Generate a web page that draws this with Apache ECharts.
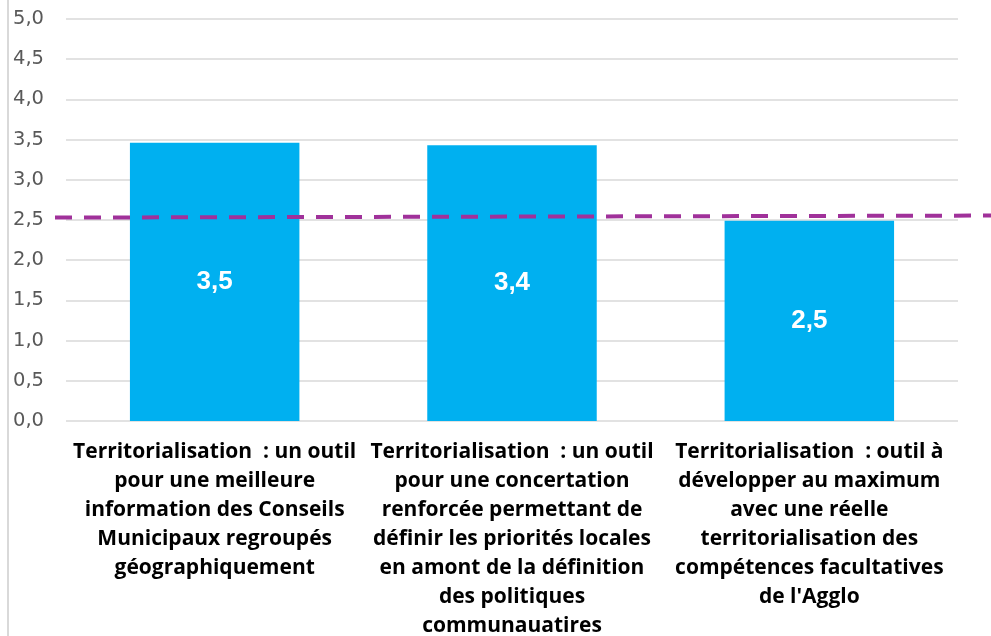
<!DOCTYPE html>
<html>
<head>
<meta charset="utf-8">
<script src="https://cdn.jsdelivr.net/npm/echarts@6/dist/echarts.min.js"></script>
<style>
html,body{margin:0;padding:0;background:#fff;}
#chart{width:991px;height:636px;position:relative;}
#edge{position:absolute;left:7px;top:0;width:2px;height:636px;background:#d9d9d9;}
</style>
</head>
<body>
<div id="chart"></div>
<div id="edge"></div>
<script>
// catégories (retours à la ligne comme dans l'original)
var categories = [
  'Territorialisation  : un outil\npour une meilleure\ninformation des Conseils\nMunicipaux regroupés\ngéographiquement',
  'Territorialisation  : un outil\npour une concertation\nrenforcée permettant de\ndéfinir les priorités locales\nen amont de la définition\ndes politiques\ncommunauatires',
  'Territorialisation  : outil à\ndévelopper au maximum\navec une réelle\nterritorialisation des\ncompétences facultatives\nde l\'Agglo'
];
var values = [3.46, 3.43, 2.49];
// ligne pointillée : début et fin (x de 0 à 1 sur toute la largeur, y en valeur)
var refLine = [[0, 2.53], [1, 2.555]];
var yTicks = [0, 0.5, 1, 1.5, 2, 2.5, 3, 3.5, 4, 4.5, 5];

function fr(v){ return v.toFixed(1).replace('.', ','); }

var myChart = echarts.init(document.getElementById('chart'));
myChart.setOption({
  animation:false,
  grid:[
    {left:66, right:33, top:19, bottom:215, outerBoundsMode:'none', containLabel:false},
    {left:55, right:0, top:19, bottom:215, outerBoundsMode:'none', containLabel:false}
  ],
  xAxis:[{
    type:'category',
    gridIndex:0,
    data:categories,
    axisLine:{show:false},
    axisTick:{show:false},
    axisLabel:{
      interval:0,
      margin:17,
      color:'#000',
      fontFamily:'Open Sans',
      fontWeight:'bold',
      fontSize:21,
      lineHeight:29,
      align:'center'
    }
  },{
    type:'value',
    gridIndex:1,
    min:0,
    max:1,
    show:false
  }],
  yAxis:[{
    type:'value',
    gridIndex:0,
    min:yTicks[0],
    max:yTicks[yTicks.length-1],
    interval:0.5,
    axisLine:{show:false},
    axisTick:{show:false},
    splitLine:{lineStyle:{color:'#d9d9d9', width:1.5}},
    axisLabel:{
      margin:22,
      color:'#595959',
      fontFamily:'DejaVu Sans',
      fontSize:19.5,
      formatter:function(v){ return fr(v); }
    }
  },{
    type:'value',
    gridIndex:1,
    min:0,
    max:5,
    show:false
  }],
  series:[{
    type:'bar',
    data:values,
    barWidth:'57%',
    itemStyle:{color:'#00b0f0'},
    label:{
      show:true,
      position:'inside',
      color:'#fff',
      fontFamily:'Liberation Sans',
      fontWeight:'bold',
      fontSize:26,
      formatter:function(p){ return fr(p.value); }
    }
  },{
    type:'line',
    xAxisIndex:1,
    yAxisIndex:1,
    data:refLine,
    symbol:'none',
    lineStyle:{color:'#a0319a', width:4, type:[17,12]},
    z:5
  }]
});
</script>
</body>
</html>
